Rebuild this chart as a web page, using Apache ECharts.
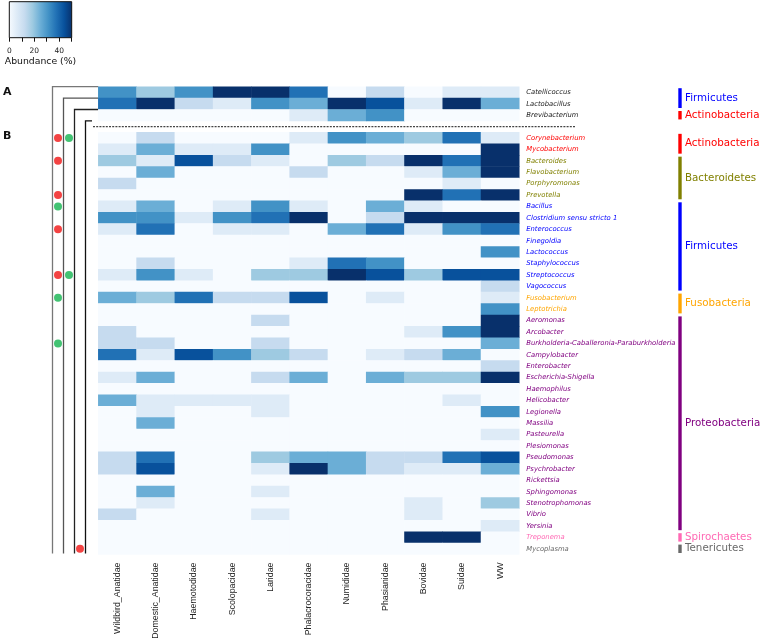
<!DOCTYPE html>
<html><head><meta charset="utf-8">
<script src="https://cdn.jsdelivr.net/npm/echarts@6/dist/echarts.min.js"></script>
<style>html,body{margin:0;padding:0;background:#fff}#c{width:760px;height:640px}</style>
</head><body><div id="c"></div>
<script>
// ---------------- DATA ----------------
const columns = ['Wildbird_Anatidae','Domestic_Anatidae','Haemotodidae','Scolopacidae','Laridae','Phalacrocoracidae','Numididae','Phasianidae','Bovidae','Suidae','WW'];

const genusA = ['Catellicoccus','Lactobacillus','Brevibacterium'];
const phylumA = ['Firmicutes','Firmicutes','Actinobacteria'];
const valuesA = [
  [31.3,18.8,31.3,50,50,37.5,0,12.5,0,6.3,6.3],
  [37.5,50,12.5,6.3,31.3,25,50,43.8,6.3,50,25],
  [0,0,0,0,0,6.3,25,31.3,0,0,0]
];

const genusB = ['Corynebacterium','Mycobacterium','Bacteroides','Flavobacterium','Porphyromonas','Prevotella',
  'Bacillus','Clostridium sensu stricto 1','Enterococcus','Finegoldia','Lactococcus','Staphylococcus','Streptococcus','Vagococcus',
  'Fusobacterium','Leptotrichia',
  'Aeromonas','Arcobacter','Burkholderia-Caballeronia-Paraburkholderia','Campylobacter','Enterobacter','Escherichia-Shigella',
  'Haemophilus','Helicobacter','Legionella','Massilia','Pasteurella','Plesiomonas','Pseudomonas','Psychrobacter','Rickettsia',
  'Sphingomonas','Stenotrophomonas','Vibrio','Yersinia',
  'Treponema','Mycoplasma'];
const phylumB = ['Actinobacteria','Actinobacteria','Bacteroidetes','Bacteroidetes','Bacteroidetes','Bacteroidetes',
  'Firmicutes','Firmicutes','Firmicutes','Firmicutes','Firmicutes','Firmicutes','Firmicutes','Firmicutes',
  'Fusobacteria','Fusobacteria',
  'Proteobacteria','Proteobacteria','Proteobacteria','Proteobacteria','Proteobacteria','Proteobacteria',
  'Proteobacteria','Proteobacteria','Proteobacteria','Proteobacteria','Proteobacteria','Proteobacteria','Proteobacteria','Proteobacteria','Proteobacteria',
  'Proteobacteria','Proteobacteria','Proteobacteria','Proteobacteria',
  'Spirochaetes','Tenericutes'];
const valuesB = [
  [0,12.5,0,0,0,6.3,31.3,25,18.8,37.5,6.3],      // Corynebacterium
  [6.3,25,6.3,6.3,31.3,0,0,0,0,0,50],             // Mycobacterium
  [18.8,6.3,43.8,12.5,6.3,0,18.8,12.5,50,37.5,50],// Bacteroides
  [0,25,0,0,0,12.5,0,0,6.3,25,50],                // Flavobacterium
  [12.5,0,0,0,0,0,0,0,0,6.3,0],                   // Porphyromonas
  [0,0,0,0,0,0,0,0,50,37.5,50],                   // Prevotella
  [6.3,25,0,6.3,31.3,6.3,0,25,6.3,0,0],           // Bacillus
  [31.3,31.3,6.3,31.3,37.5,50,0,12.5,50,50,50],   // Clostridium
  [6.3,37.5,0,6.3,6.3,0,25,37.5,6.3,31.3,37.5],   // Enterococcus
  [0,0,0,0,0,0,0,0,0,0,0],                        // Finegoldia
  [0,0,0,0,0,0,0,0,0,0,31.3],                     // Lactococcus
  [0,12.5,0,0,0,6.3,37.5,31.3,0,0,0],             // Staphylococcus
  [6.3,31.3,6.3,0,18.8,18.8,50,43.8,18.8,43.8,43.8], // Streptococcus
  [0,0,0,0,0,0,0,0,0,0,12.5],                     // Vagococcus
  [25,18.8,37.5,12.5,12.5,43.8,0,6.3,0,0,6.3],    // Fusobacterium
  [0,0,0,0,0,0,0,0,0,0,31.3],                     // Leptotrichia
  [0,0,0,0,12.5,0,0,0,0,0,50],                    // Aeromonas
  [12.5,0,0,0,0,0,0,0,6.3,31.3,50],               // Arcobacter
  [12.5,12.5,0,0,12.5,0,0,0,0,0,25],              // Burkholderia
  [37.5,6.3,43.8,31.3,18.8,12.5,0,6.3,12.5,25,0], // Campylobacter
  [0,0,0,0,0,0,0,0,0,0,12.5],                     // Enterobacter
  [6.3,25,0,0,12.5,25,0,25,18.8,18.8,50],         // Escherichia-Shigella
  [0,0,0,0,0,0,0,0,0,0,0],                        // Haemophilus
  [25,6.3,6.3,6.3,6.3,0,0,0,0,6.3,0],             // Helicobacter
  [0,6.3,0,0,6.3,0,0,0,0,0,31.3],                 // Legionella
  [0,25,0,0,0,0,0,0,0,0,0],                       // Massilia
  [0,0,0,0,0,0,0,0,0,0,6.3],                      // Pasteurella
  [0,0,0,0,0,0,0,0,0,0,0],                        // Plesiomonas
  [12.5,37.5,0,0,18.8,25,25,12.5,12.5,37.5,43.8], // Pseudomonas
  [12.5,43.8,0,0,6.3,50,25,12.5,6.3,6.3,25],      // Psychrobacter
  [0,0,0,0,0,0,0,0,0,0,0],                        // Rickettsia
  [0,25,0,0,6.3,0,0,0,0,0,0],                     // Sphingomonas
  [0,6.3,0,0,0,0,0,0,6.3,0,18.8],                 // Stenotrophomonas
  [12.5,0,0,0,6.3,0,0,0,6.3,0,0],                 // Vibrio
  [0,0,0,0,0,0,0,0,0,0,6.3],                      // Yersinia
  [0,0,0,0,0,0,0,0,50,50,0],                      // Treponema
  [0,0,0,0,0,0,0,0,0,0,0]                         // Mycoplasma
];

// marker dots (genus lists per marker column)
const redDots1 = ['Corynebacterium','Bacteroides','Prevotella','Enterococcus','Streptococcus'];
const greenDots1 = ['Bacillus','Fusobacterium','Burkholderia-Caballeronia-Paraburkholderia'];
const greenDots2 = ['Corynebacterium','Streptococcus'];
const redDots3 = ['Mycoplasma'];

const colorbarTicks = [0, 20, 40];
const abundanceMin = 0, abundanceMax = 50;

// ---------------- STYLE ----------------
const blues = ['#f7fbff','#deebf7','#c6dbef','#9ecae1','#6baed6','#4292c6','#2171b5','#08519c','#08306b'];
const phylumColor = {
  Firmicutes:'#0000ff', Actinobacteria:'#ff0000', Bacteroidetes:'#808000', Fusobacteria:'#ffa500',
  Proteobacteria:'#800080', Spirochaetes:'#ff69b4', Tenericutes:'#696969'
};
const L = {left:98.3, top:86.7, cellW:38.27, rowH:11.41};

const rows = genusA.concat([''], genusB);
const phyla = phylumA.concat([''], phylumB);
const nRows = rows.length;
const gW = L.cellW * columns.length;
const gH = L.rowH * nRows;
const bottom = L.top + gH;

const heatData = [];
valuesA.forEach((r, i) => r.forEach((v, j) => heatData.push([j, i, v])));
valuesB.forEach((r, i) => r.forEach((v, j) => heatData.push([j, i + genusA.length + 1, v])));

const dotData = (names, x) => names.map(n => [x, rows.indexOf(n)]);

// graphics: bracket lines, dashed separator, phylum bars
const graphics = [];
const lineCols = [
  {x:52.5, row:0, color:'#777', hEnd:L.left},
  {x:63.5, row:1, color:'#555', hEnd:L.left},
  {x:74.5, row:2, color:'#222', hEnd:L.left},
  {x:85.5, row:3, color:'#111', hEnd:92}
];
lineCols.forEach(c => {
  const y0 = L.top + c.row * L.rowH;
  graphics.push({type:'polyline', shape:{points:[[c.hEnd, y0],[c.x, y0],[c.x, bottom - 1]]},
    style:{stroke:c.color, lineWidth:1.3, fill:null}, silent:true});
});
const sepY = L.top + 3.5 * L.rowH;
graphics.push({type:'line', shape:{x1:93, y1:sepY, x2:576, y2:sepY},
  style:{stroke:'#444', lineWidth:1.2, lineDash:[2,1.2]}, silent:true});

// phylum bars from consecutive runs
let i = 0;
while (i < nRows) {
  if (!phyla[i]) { i++; continue; }
  let j = i;
  while (j + 1 < nRows && phyla[j + 1] === phyla[i]) j++;
  const y0 = L.top + i * L.rowH + 1.5, y1 = L.top + (j + 1) * L.rowH - 1.5;
  const col = phylumColor[phyla[i]];
  graphics.push({type:'rect', shape:{x:678.3, y:y0, width:3.4, height:y1 - y0}, style:{fill:col}, silent:true});
  graphics.push({type:'text', x:685, y:(y0 + y1) / 2,
    style:{text:phyla[i], fill:col, font:'10.3px "DejaVu Sans"', verticalAlign:'middle', align:'left'}, silent:true});
  i = j + 1;
}
graphics.push({type:'text', x:3, y:92, style:{text:'A', fill:'#111', font:'bold 11px "DejaVu Sans"', verticalAlign:'middle'}});
graphics.push({type:'text', x:3, y:136, style:{text:'B', fill:'#111', font:'bold 11px "DejaVu Sans"', verticalAlign:'middle'}});

const gradient = new echarts.graphic.LinearGradient(0, 0, 1, 0,
  blues.map((c, k) => ({offset: k / (blues.length - 1), color: c})));

const option = {
  animation: false,
  backgroundColor: '#fff',
  grid: [
    {left:L.left, top:L.top, width:gW, height:gH, containLabel:false, outerBoundsMode:'none'},
    {left:52.5, top:L.top, width:33, height:gH, containLabel:false, outerBoundsMode:'none'},
    {left:9.3, top:1.7, width:62.4, height:36, show:true, backgroundColor:gradient, borderColor:'#111', borderWidth:1, containLabel:false, outerBoundsMode:'none'}
  ],
  xAxis: [
    {gridIndex:0, type:'category', data:columns, position:'bottom',
      axisLine:{show:false}, axisTick:{show:false}, splitLine:{show:false},
      axisLabel:{rotate:90, fontSize:8.8, fontFamily:'Liberation Sans', color:'#222', margin:8, interval:0}},
    {gridIndex:1, type:'value', min:0, max:3, show:false},
    {gridIndex:2, type:'value', min:abundanceMin, max:abundanceMax, interval:10,
      axisLine:{show:false}, splitLine:{show:false},
      axisTick:{show:true, length:4, lineStyle:{color:'#111'}},
      axisLabel:{formatter: v => colorbarTicks.includes(v) ? String(v) : '', fontSize:7.5, fontFamily:'DejaVu Sans', color:'#222', margin:9},
      name:'Abundance (%)', nameLocation:'middle', nameGap:19,
      nameTextStyle:{fontSize:9.3, fontFamily:'DejaVu Sans', color:'#111'}}
  ],
  yAxis: [
    {gridIndex:0, type:'category', data:rows, inverse:true, position:'right',
      axisLine:{show:false}, axisTick:{show:false}, splitLine:{show:false},
      axisLabel:{interval:0, margin:7, fontSize:6.8, fontStyle:'italic', fontFamily:'DejaVu Sans',
        color:(val, idx) => idx < genusA.length ? '#222' : (phylumColor[phyla[idx]] || '#222')}},
    {gridIndex:1, type:'category', data:rows, inverse:true, show:false},
    {gridIndex:2, type:'value', min:0, max:1, show:false}
  ],
  visualMap: {show:false, type:'continuous', min:abundanceMin, max:abundanceMax, inRange:{color:blues}, seriesIndex:0},
  graphic: graphics,
  series: [
    {type:'heatmap', xAxisIndex:0, yAxisIndex:0, data:heatData, itemStyle:{borderWidth:0}, emphasis:{disabled:true}, progressive:0},
    {type:'scatter', xAxisIndex:1, yAxisIndex:1, symbolSize:8, itemStyle:{color:'#f01414'}, data:dotData(redDots1, 0.5).concat(dotData(redDots3, 2.5)), z:5},
    {type:'scatter', xAxisIndex:1, yAxisIndex:1, symbolSize:8, itemStyle:{color:'#14b450'}, data:dotData(greenDots1, 0.5).concat(dotData(greenDots2, 1.5)), z:5},
    {type:'scatter', xAxisIndex:2, yAxisIndex:2, data:[]}
  ]
};
const chart = echarts.init(document.getElementById('c'));
chart.setOption(option);
</script></body></html>
